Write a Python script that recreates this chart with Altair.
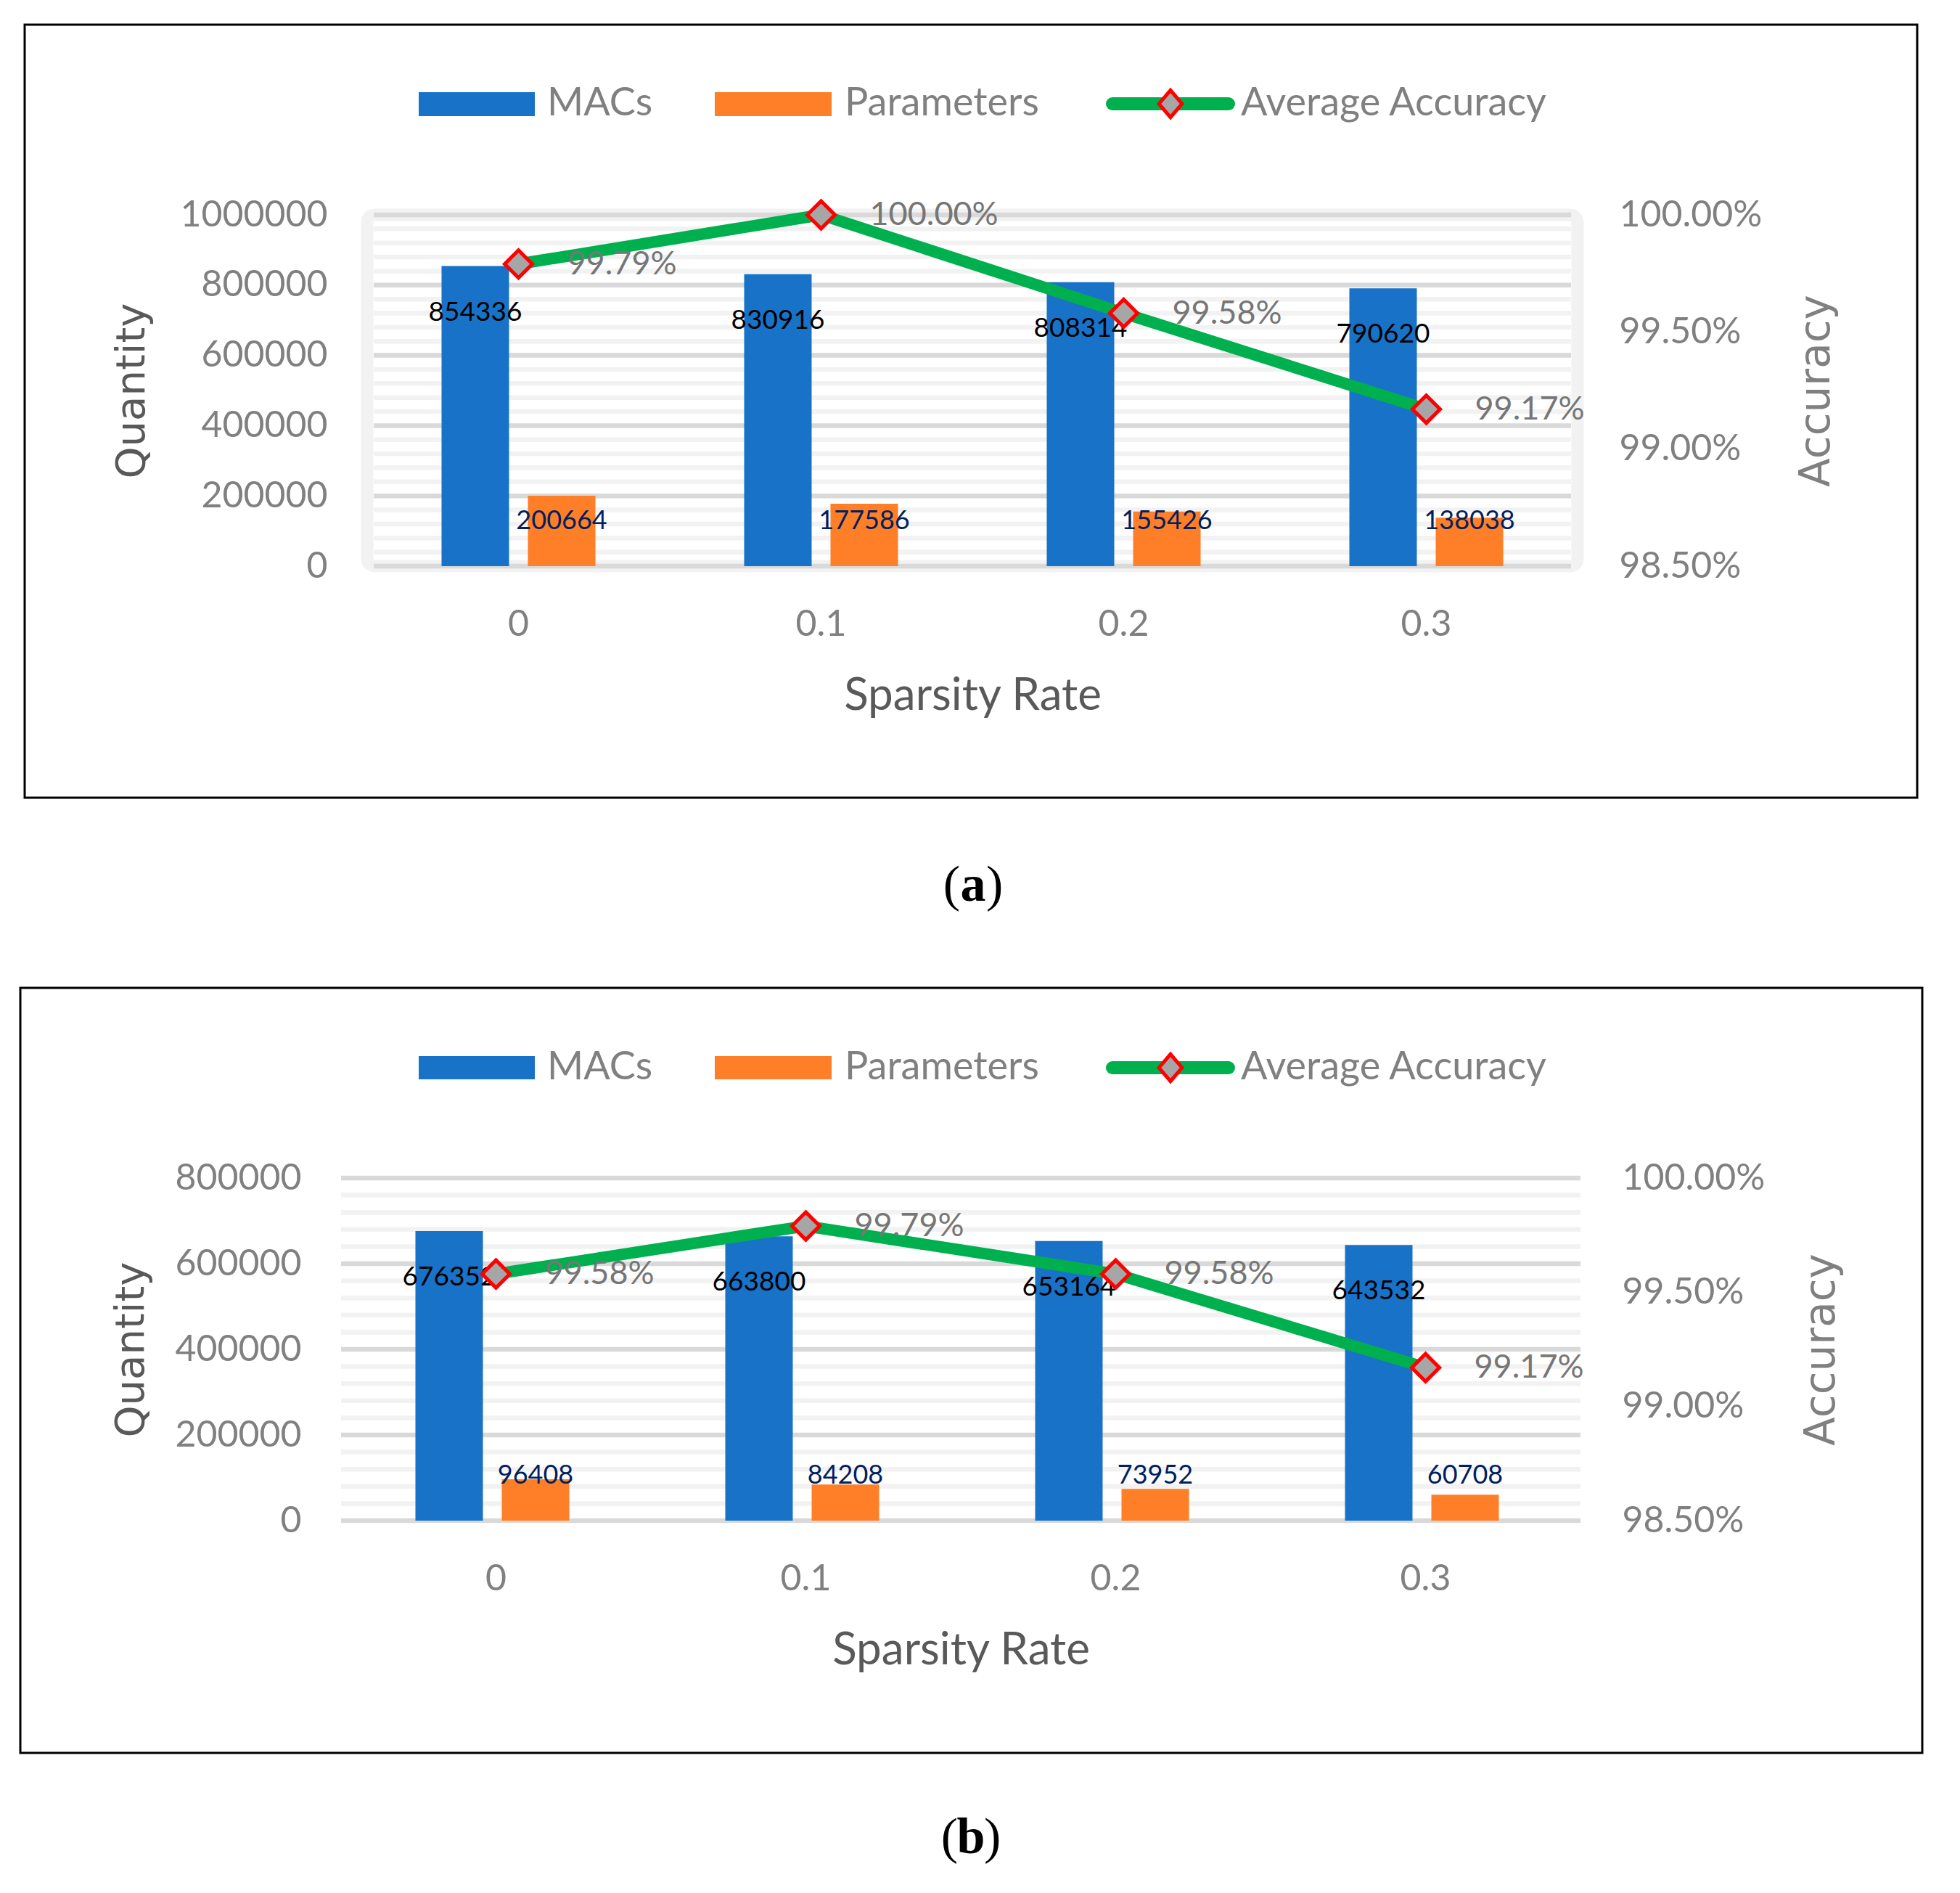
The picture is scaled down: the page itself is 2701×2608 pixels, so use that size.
import altair as alt
import pandas as pd

# ---------------- data ----------------
sparsity = ["0", "0.1", "0.2", "0.3"]
series_names = ["MACs", "Parameters"]
legend_labels = ["MACs", "Parameters", "Average Accuracy"]

macs_a = [854336, 830916, 808314, 790620]
params_a = [200664, 177586, 155426, 138038]
acc_a = [0.9979, 1.0000, 0.9958, 0.9917]

macs_b = [676352, 663800, 653164, 643532]
params_b = [96408, 84208, 73952, 60708]
acc_b = [0.9958, 0.9979, 0.9958, 0.9917]

quantity_ticks_a = [0, 200000, 400000, 600000, 800000, 1000000]
quantity_ticks_b = [0, 200000, 400000, 600000, 800000]
accuracy_ticks = [0.985, 0.990, 0.995, 1.000]
caption_letters = ["a", "b"]

# ---------------- style ----------------
BLUE = "#1873C8"
ORANGE = "#FE7F28"
GREEN = "#00B04F"
MARK_FILL = "#A6A6A6"
RED = "#FF0000"
TICK_GRAY = "#808080"
TITLE_DARK = "#595959"
MINOR = "#F2F2F2"
MAJOR = "#D9D9D9"
SANS = "Lato"
TITLE_FONT = "DejaVu Sans"
SERIF = "Liberation Serif"

one = pd.DataFrame({"k": [0]})


def minor_values(ticks):
    out = []
    for a, b in zip(ticks[:-1], ticks[1:]):
        step = (b - a) / 5
        out += [a + step * i for i in range(1, 5)]
    return out


def panel(macs, params, acc, qticks, letter, g):
    W, H, L, T = g["W"], g["H"], g["left"], g["top"]

    def rx(px):
        return px - L

    def ry(py):
        return py - T

    bars_df = pd.DataFrame({
        "sparsity": sparsity * 2,
        "series": [series_names[0]] * len(sparsity) + [series_names[1]] * len(sparsity),
        "value": macs + params,
    })
    acc_df = pd.DataFrame({"sparsity": sparsity, "acc": acc})
    minor_df = pd.DataFrame({"value": minor_values(qticks)})
    major_df = pd.DataFrame({"value": qticks})

    qdom = alt.Scale(domain=[0, qticks[-1]], nice=False, zero=True)
    adom = alt.Scale(domain=[accuracy_ticks[0], accuracy_ticks[-1]], nice=False, zero=False)
    x_axis = alt.Axis(
        title="Sparsity Rate", labelAngle=0, labelFont=SANS, labelFontSize=50,
        labelColor=TICK_GRAY, labelPadding=95, labelBaseline="alphabetic", labelLimit=0,
        ticks=False, tickSize=0, domain=False, grid=False,
        titleFont=SANS, titleFontSize=62, titleFontWeight="normal",
        titleColor=TITLE_DARK, titleX=rx(g["xtitle_x"]), titleY=178,
        titleBaseline="middle", titleAlign="center",
    )
    xscale = alt.Scale(paddingInner=0, paddingOuter=g["xpo"], align=1)

    def xenc():
        return alt.X("sparsity:N", sort=sparsity, scale=xscale, axis=x_axis)

    xoff = alt.XOffset(
        "series:N", sort=series_names,
        scale=alt.Scale(domain=series_names, paddingInner=g["pi"], paddingOuter=g["po"]),
    )
    left_axis = alt.Axis(
        values=qticks, format="d", labelFont=SANS, labelFontSize=50, labelColor=TICK_GRAY,
        labelPadding=g["lpad"], labelLimit=0, ticks=False, tickSize=0, domain=False, grid=False,
        title="Quantity", titleFont=TITLE_FONT, titleFontSize=56, titleFontWeight="normal",
        titleColor=TITLE_DARK, titleAngle=270, titleX=rx(g["qtitle_x"]), titleY=H / 2,
        titleBaseline="middle", titleAlign="center",
    )
    right_axis = alt.Axis(
        values=accuracy_ticks, format=".2%", orient="right", labelFont=SANS, labelFontSize=50,
        labelColor=TICK_GRAY, labelPadding=57, labelLimit=0, ticks=False, tickSize=0,
        domain=False, grid=False,
        title="Accuracy", titleFont=TITLE_FONT, titleFontSize=58, titleFontWeight="normal",
        titleColor=TICK_GRAY, titleAngle=270, titleX=g["atitle_x"] - (L + W), titleY=H / 2,
        titleBaseline="middle", titleAlign="center",
    )

    def yq(field="value:Q"):
        return alt.Y(field, scale=qdom, axis=left_axis)

    def ya():
        return alt.Y("acc:Q", scale=adom, axis=right_axis)

    layers = []
    # invisible layout box (controls panel bounds)
    layers.append(alt.Chart(one).mark_rect(opacity=0).encode(
        x=alt.value(rx(8)), x2=alt.value(rx(2693)),
        y=alt.value(ry(g["page_y"][0])), y2=alt.value(ry(g["page_y"][1]))))
    # outer frame
    fx0, fy0, fx1, fy1 = g["frame"]
    layers.append(alt.Chart(one).mark_rect(fillOpacity=0, stroke="black", strokeWidth=3).encode(
        x=alt.value(rx(fx0)), x2=alt.value(rx(fx1)), y=alt.value(ry(fy0)), y2=alt.value(ry(fy1))))
    if g["border"]:
        bx0, bx1 = g["border"]
        layers.append(alt.Chart(one).mark_rect(
            fillOpacity=0, stroke=MINOR, strokeWidth=17, cornerRadius=10).encode(
            x=alt.value(rx(bx0)), x2=alt.value(rx(bx1)), y=alt.value(0), y2=alt.value(H)))
    gx0, gx1 = rx(g["gx"][0]), rx(g["gx"][1])
    layers.append(alt.Chart(minor_df).mark_rule(color=MINOR, strokeWidth=6.5).encode(
        y=yq(), x=alt.value(gx0), x2=alt.value(gx1)))
    layers.append(alt.Chart(major_df).mark_rule(color=MAJOR, strokeWidth=6.5).encode(
        y=yq(), x=alt.value(gx0), x2=alt.value(gx1)))
    # bars
    layers.append(alt.Chart(bars_df).mark_bar().encode(
        x=xenc(), xOffset=xoff, y=yq(),
        color=alt.Color("series:N", scale=alt.Scale(domain=series_names, range=[BLUE, ORANGE]),
                        legend=None),
    ))
    # MACs labels (inside end)
    layers.append(alt.Chart(bars_df).transform_filter(
        alt.datum.series == series_names[0]).mark_text(
        font=SANS, fontSize=37, color="black", baseline="middle", dy=64).encode(
        x=xenc(), xOffset=xoff, y=yq(), text=alt.Text("value:Q", format="d")))
    # Parameters labels (near base)
    layers.append(alt.Chart(bars_df).transform_filter(
        alt.datum.series == series_names[1]).mark_text(
        font=SANS, fontSize=36, color="#002060", baseline="middle", dy=-62).encode(
        x=xenc(), xOffset=xoff,
        y=alt.YDatum(0, scale=qdom, axis=left_axis), text=alt.Text("value:Q", format="d")))

    # legend
    ly = ry(g["legend_y"])
    sy0, sy1 = ry(g["sw_y"][0]), ry(g["sw_y"][1])
    for (x0, x1), col in zip([(577, 737), (985, 1146)], [BLUE, ORANGE]):
        layers.append(alt.Chart(one).mark_rect(color=col).encode(
            x=alt.value(rx(x0)), x2=alt.value(rx(x1)), y=alt.value(sy0), y2=alt.value(sy1)))
    layers.append(alt.Chart(one).mark_rule(color=GREEN, strokeWidth=18, strokeCap="round").encode(
        x=alt.value(rx(1533)), x2=alt.value(rx(1693)), y=alt.value(ly)))
    layers.append(alt.Chart(one).mark_point(
        shape="M-0.85,0L0,-1L0.85,0L0,1Z", filled=True, fill=MARK_FILL, stroke=RED,
        strokeWidth=5, size=1400, opacity=1).encode(x=alt.value(rx(1613)), y=alt.value(ly)))
    for tx, lab in zip([754, 1164, 1710], legend_labels):
        layers.append(alt.Chart(one).mark_text(
            text=lab, font=SANS, fontSize=54, color=TICK_GRAY, align="left",
            baseline="middle").encode(x=alt.value(rx(tx)), y=alt.value(ly)))
    # caption: "(" regular, letter bold, ")" regular
    cx, cy = g["caption"]
    half = 18
    layers.append(alt.Chart(one).mark_text(
        text="(", font=SERIF, fontSize=70, color="black", align="right",
        baseline="middle").encode(x=alt.value(rx(cx) - half), y=alt.value(ry(cy))))
    layers.append(alt.Chart(one).mark_text(
        text=letter, font=SERIF, fontSize=70, fontWeight="bold", color="black", align="center",
        baseline="middle").encode(x=alt.value(rx(cx)), y=alt.value(ry(cy))))
    layers.append(alt.Chart(one).mark_text(
        text=")", font=SERIF, fontSize=70, color="black", align="left",
        baseline="middle").encode(x=alt.value(rx(cx) + half), y=alt.value(ry(cy))))

    left = alt.layer(*layers)

    line = alt.Chart(acc_df).mark_line(color=GREEN, strokeWidth=16, strokeJoin="round").encode(
        x=xenc(), y=ya())
    pts = alt.Chart(acc_df).mark_point(
        shape="diamond", filled=True, fill=MARK_FILL, stroke=RED, strokeWidth=5,
        size=1450, opacity=1).encode(x=xenc(), y=ya())
    pct = alt.Chart(acc_df).mark_text(
        font=SANS, fontSize=45, color="#767676", align="left", baseline="middle", dx=67).encode(
        x=xenc(), y=ya(), text=alt.Text("acc:Q", format=".2%"))
    right = alt.layer(line, pts, pct)

    return alt.layer(left, right).resolve_scale(y="independent").properties(width=W, height=H)


# Both panels share the same group origin (x = 470 on the page); panel (a)'s
# category bands start 36 px further right through the band scale's outer padding.
geo_a = dict(left=470, top=296, W=1704, H=484, xpo=(1704 / 417 - 4) / 2, pi=0.2185, po=0.861,
             lpad=19, frame=(34, 34, 2642, 1099), page_y=(8, 1300), gx=(515, 2165),
             border=(506, 2174), legend_y=143, sw_y=(127, 160), caption=(1341, 1220),
             qtitle_x=181, atitle_x=2503, xtitle_x=1340)
geo_b = dict(left=470, top=1623, W=1708, H=472, xpo=0, pi=0.195, po=0.8695,
             lpad=55, frame=(28, 1361, 2649, 2415), page_y=(1300, 2600), gx=(470, 2178),
             border=None, legend_y=1471, sw_y=(1455, 1487), caption=(1338, 2532),
             qtitle_x=180, atitle_x=2510, xtitle_x=1324)

pa = panel(macs_a, params_a, acc_a, quantity_ticks_a, caption_letters[0], geo_a)
pb = panel(macs_b, params_b, acc_b, quantity_ticks_b, caption_letters[1], geo_b)

chart = alt.ConcatChart(concat=[pa, pb], columns=1, spacing=0, padding=0,
                        background="white").configure_view(stroke=None)

chart.save("out.html", embed_options={"renderer": "svg", "actions": False})
